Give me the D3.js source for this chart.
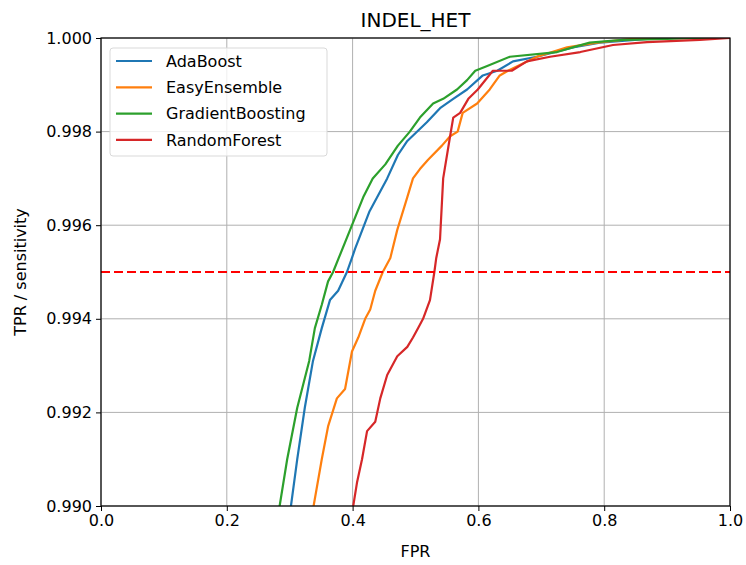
<!DOCTYPE html>
<html>
<head>
<meta charset="utf-8">
<script src="https://cdn.jsdelivr.net/npm/d3@7"></script>
<style>
	body { margin: 0; background: #fff; }
	text { font-family: "DejaVu Sans", sans-serif; fill: #000; }
</style>
</head>
<body>
<div id="chart"></div>
<script>
var xTicks = [0, 0.2, 0.4, 0.6, 0.8, 1.0];
var yTicks = [0.990, 0.992, 0.994, 0.996, 0.998, 1.000];
var threshold = 0.995;

var models = ["AdaBoost", "EasyEnsemble", "GradientBoosting", "RandomForest"];
var colors = ["#1f77b4", "#ff7f0e", "#2ca02c", "#d62728"];

// [fpr, tpr] pairs
var adaBoost = [[0.300,0.9898],[0.302,0.9900],[0.312,0.9910],[0.324,0.9921],[0.337,0.9931],[0.351,0.9938],[0.364,0.9944],[0.377,0.9946],[0.391,0.9950],[0.399,0.9953],[0.404,0.9955],[0.427,0.9963],[0.455,0.9970],[0.472,0.9975],[0.487,0.9978],[0.518,0.9982],[0.539,0.9985],[0.560,0.9987],[0.582,0.9989],[0.607,0.9992],[0.630,0.9993],[0.655,0.9995],[0.693,0.9996],[0.750,0.9998],[0.793,0.9999],[0.889,1.0],[1.0,1.0]];
var easyEnsemble = [[0.336,0.9898],[0.338,0.9900],[0.351,0.9910],[0.361,0.9917],[0.375,0.9923],[0.388,0.9925],[0.399,0.9933],[0.409,0.9936],[0.420,0.9940],[0.428,0.9942],[0.436,0.9946],[0.448,0.9950],[0.460,0.9953],[0.471,0.9959],[0.487,0.9966],[0.496,0.9970],[0.507,0.9972],[0.520,0.9974],[0.542,0.9977],[0.555,0.9979],[0.567,0.9980],[0.575,0.9984],[0.598,0.9986],[0.618,0.9989],[0.634,0.9992],[0.647,0.9993],[0.693,0.9996],[0.741,0.9998],[0.789,0.9999],[0.857,1.0],[1.0,1.0]];
var gradientBoosting = [[0.282,0.9898],[0.284,0.9900],[0.296,0.9910],[0.312,0.9921],[0.331,0.9931],[0.340,0.9938],[0.351,0.9943],[0.361,0.9948],[0.369,0.9950],[0.378,0.9953],[0.396,0.9959],[0.417,0.9966],[0.432,0.9970],[0.452,0.9973],[0.472,0.9977],[0.491,0.9980],[0.507,0.9983],[0.528,0.9986],[0.544,0.9987],[0.566,0.9989],[0.582,0.9991],[0.595,0.9993],[0.614,0.9994],[0.650,0.9996],[0.725,0.9997],[0.750,0.9998],[0.777,0.9999],[0.830,0.99996],[0.900,0.99998],[0.950,1.0],[1.0,1.0]];
var randomForest = [[0.400,0.9898],[0.401,0.9900],[0.407,0.9905],[0.415,0.9910],[0.423,0.9916],[0.436,0.9918],[0.444,0.9923],[0.455,0.9928],[0.471,0.9932],[0.487,0.9934],[0.496,0.9936],[0.504,0.9938],[0.512,0.9940],[0.523,0.9944],[0.530,0.9950],[0.533,0.9953],[0.539,0.9957],[0.544,0.9970],[0.555,0.9979],[0.560,0.9983],[0.571,0.9984],[0.584,0.9987],[0.599,0.9989],[0.623,0.9993],[0.653,0.9993],[0.677,0.9995],[0.714,0.9996],[0.762,0.9997],[0.814,0.99985],[0.868,0.99991],[0.952,0.99996],[1.0,1.0]];

var curves = [adaBoost, easyEnsemble, gradientBoosting, randomForest];

var width = 746, height = 565;
var margin = {left: 101, right: 16, top: 38, bottom: 59};

var svg = d3.select("#chart").append("svg")
	.attr("width", width)
	.attr("height", height);

var x = d3.scaleLinear().domain([0, 1]).range([margin.left, width - margin.right]);
var y = d3.scaleLinear().domain([0.990, 1.000]).range([height - margin.bottom, margin.top]);

svg.append("clipPath").attr("id", "plot-clip")
	.append("rect")
	.attr("x", x(0)).attr("y", y(1))
	.attr("width", x(1) - x(0)).attr("height", y(0.99) - y(1));

// grid
var grid = svg.append("g").attr("class", "grid");
grid.selectAll(".gx").data(xTicks).enter().append("line")
	.attr("x1", function(d) { return x(d); })
	.attr("x2", function(d) { return x(d); })
	.attr("y1", y(0.99)).attr("y2", y(1))
	.attr("stroke", "#b0b0b0").attr("stroke-width", 1);
grid.selectAll(".gy").data(yTicks).enter().append("line")
	.attr("x1", x(0)).attr("x2", x(1))
	.attr("y1", function(d) { return y(d); })
	.attr("y2", function(d) { return y(d); })
	.attr("stroke", "#b0b0b0").attr("stroke-width", 1);

var line = d3.line()
	.x(function(d) { return x(d[0]); })
	.y(function(d) { return y(d[1]); });

var plot = svg.append("g").attr("clip-path", "url(#plot-clip)");
plot.selectAll(".roc").data(curves).enter().append("path")
	.attr("class", "roc")
	.attr("d", line)
	.attr("fill", "none")
	.attr("stroke", function(d, i) { return colors[i]; })
	.attr("stroke-width", 2.2)
	.attr("stroke-linejoin", "round");

plot.append("line")
	.attr("x1", x(0)).attr("x2", x(1))
	.attr("y1", y(threshold)).attr("y2", y(threshold))
	.attr("stroke", "#ff0000")
	.attr("stroke-width", 2.2)
	.attr("stroke-dasharray", "9,4");

// axes
var xAxis = d3.axisBottom(x).tickValues(xTicks).tickFormat(d3.format(".1f")).tickSize(5).tickPadding(4);
var yAxis = d3.axisLeft(y).tickValues(yTicks).tickFormat(d3.format(".3f")).tickSize(5).tickPadding(4);

var gx = svg.append("g").attr("transform", "translate(0," + y(0.99) + ")").call(xAxis);
var gy = svg.append("g").attr("transform", "translate(" + x(0) + ",0)").call(yAxis);
[gx, gy].forEach(function(g) {
	g.select(".domain").remove();
	g.selectAll("line").attr("stroke", "#000").attr("stroke-width", 1);
	g.selectAll("text").attr("font-size", 16).attr("font-family", "DejaVu Sans").attr("fill", "#000");
});

// frame
svg.append("rect")
	.attr("x", x(0)).attr("y", y(1))
	.attr("width", x(1) - x(0)).attr("height", y(0.99) - y(1))
	.attr("fill", "none").attr("stroke", "#000").attr("stroke-width", 1.2);

svg.append("text")
	.attr("x", (x(0) + x(1)) / 2).attr("y", 27)
	.attr("text-anchor", "middle").attr("font-size", 20)
	.text("INDEL_HET");

svg.append("text")
	.attr("x", (x(0) + x(1)) / 2).attr("y", 557)
	.attr("text-anchor", "middle").attr("font-size", 16)
	.text("FPR");

svg.append("text")
	.attr("transform", "translate(26," + ((y(0.99) + y(1)) / 2) + ") rotate(-90)")
	.attr("text-anchor", "middle").attr("font-size", 16)
	.text("TPR / sensitivity");

// legend
var legend = svg.append("g").attr("transform", "translate(110,48)");
legend.append("rect")
	.attr("width", 217).attr("height", 108).attr("rx", 3)
	.attr("fill", "#fff").attr("fill-opacity", 0.8)
	.attr("stroke", "#d9d9d9").attr("stroke-width", 1);
var item = legend.selectAll(".item").data(models).enter().append("g")
	.attr("transform", function(d, i) { return "translate(0," + (13 + i * 26.3) + ")"; });
item.append("line")
	.attr("x1", 6).attr("x2", 42)
	.attr("stroke", function(d, i) { return colors[i]; })
	.attr("stroke-width", 2.2);
item.append("text")
	.attr("x", 56).attr("dy", "0.35em")
	.attr("font-size", 16)
	.text(function(d) { return d; });
</script>
</body>
</html>
